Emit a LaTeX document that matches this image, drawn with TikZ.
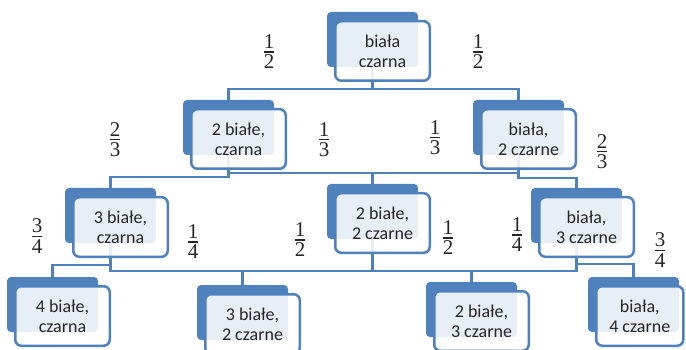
\documentclass[tikz,border=0pt]{standalone}
\usepackage{fontspec}
\setmainfont{Carlito}
\newfontfamily\fracfont{Liberation Serif}
\usetikzlibrary{backgrounds}
\definecolor{sablue}{HTML}{4F81BD}
\definecolor{txt}{HTML}{262626}
\newcommand\fr[2]{\vbox{\hbox to 10pt{\hss#1\hss}\kern2.5pt\hrule height 1.1pt\kern2.5pt\hbox to 10pt{\hss#2\hss}}}
\tikzset{
  backbox/.style={rectangle, rounded corners=4pt, fill=sablue, minimum width=91pt, minimum height=55pt, inner sep=0pt, outer sep=0pt, anchor=north west},
  frontbox/.style={rectangle, rounded corners=6pt, draw=sablue, line width=2.5pt, fill=white, fill opacity=0.87, text opacity=1, minimum height=59.5pt, inner sep=0pt, anchor=north west, align=center, text=txt, font=\fontsize{18}{20}\selectfont},
  link/.style={draw=sablue, line width=2.2pt},
  fracnode/.style={inner sep=0pt, text=txt, font=\fracfont\fontsize{21}{24}\selectfont}
}
\newcommand\pbox[5]{\node[backbox] (#1-b) at (#2,#3) {};
  \node[frontbox, minimum width=#4] (#1) at (#2+7,#3+8) {#5};}
\newcommand\conn[3]{\draw[link] (#1-b.center) -- (#1-b.center |- 0,#3) -| (#2-b.north);}
\begin{document}
\begin{tikzpicture}[x=1pt,y=-1pt]
\useasboundingbox (0,0) rectangle (686,350);
\pbox{t}{327}{12}{94.5pt}{biała\\czarna}
\pbox{l2}{183}{100}{94.5pt}{2 białe,\\czarna}
\pbox{r2}{473}{100}{94.5pt}{biała,\\2 czarne}
\pbox{a3}{65}{188}{94.5pt}{3 białe,\\czarna}
\pbox{b3}{327}{184}{94.5pt}{2 białe,\\2 czarne}
\pbox{c3}{531}{188}{94.5pt}{biała,\\3 czarne}
\pbox{a4}{7}{277}{94.5pt}{4 białe,\\czarna}
\pbox{b4}{197}{285}{94.5pt}{3 białe,\\2 czarne}
\pbox{c4}{426}{282}{94.5pt}{2 białe,\\3 czarne}
\pbox{d4}{588}{277}{87pt}{biała,\\4 czarne}
\begin{scope}[on background layer]
\conn{t}{l2}{89}
\conn{t}{r2}{89}
\conn{l2}{a3}{177}
\conn{l2}{b3}{173}
\conn{r2}{b3}{173}
\conn{r2}{c3}{178}
\conn{a3}{a4}{265}
\conn{a3}{b4}{271}
\conn{b3}{b4}{271}
\conn{b3}{c4}{271}
\conn{c3}{c4}{271}
\conn{c3}{d4}{264}
\end{scope}
\node[fracnode] (f1) at (269,52) {\fr12};
\node[fracnode] (f2) at (478,52) {\fr12};
\node[fracnode] (f3) at (115,140) {\fr23};
\node[fracnode] (f4) at (324,140) {\fr13};
\node[fracnode] (f5) at (435,138) {\fr13};
\node[fracnode] (f6) at (602,152) {\fr23};
\node[fracnode] (f7) at (37,236) {\fr34};
\node[fracnode] (f8) at (193,242) {\fr14};
\node[fracnode] (f9) at (300,240) {\fr12};
\node[fracnode] (f10) at (448,238) {\fr12};
\node[fracnode] (f11) at (517,235) {\fr14};
\node[fracnode] (f12) at (660,250) {\fr34};
\end{tikzpicture}
\end{document}
